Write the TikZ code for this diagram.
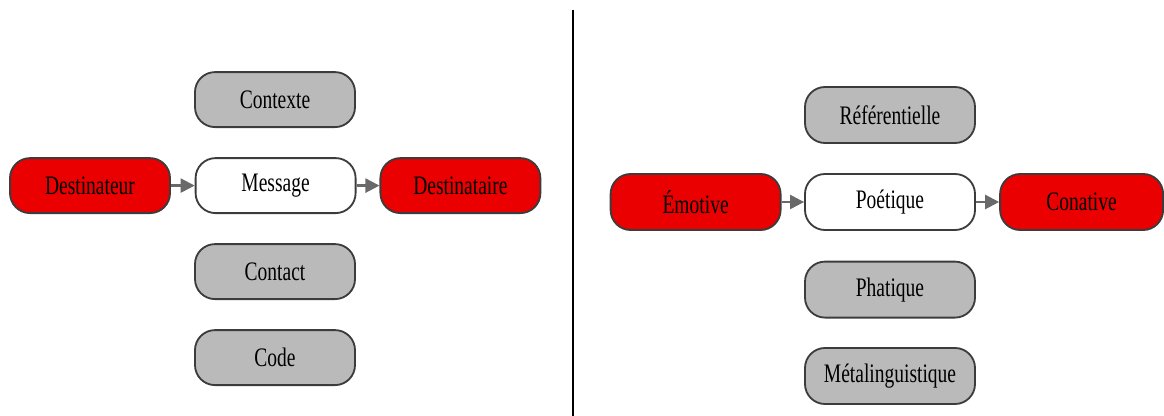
\documentclass[tikz,border=0pt]{standalone}
\usepackage{fontspec}
\setmainfont{Liberation Serif}[FakeStretch=0.73]
\usetikzlibrary{arrows.meta}

\definecolor{boxred}{RGB}{234,0,0}
\definecolor{boxgray}{RGB}{186,186,186}
\definecolor{boxline}{RGB}{60,60,60}
\definecolor{arrowgray}{RGB}{105,105,105}

\tikzset{
    fn/.style={draw=boxline, line width=1.3pt, rounded corners=0.5cm,
        minimum width=4cm, minimum height=1.375cm, inner sep=0pt,
        font=\fontsize{19}{21}\selectfont},
    fnred/.style={fn, fill=boxred},
    fngray/.style={fn, fill=boxgray},
    fnwhite/.style={fn, fill=white},
    flow/.style={draw=arrowgray, line width=1.6pt,
        -{Triangle[length=3.5mm, width=3.5mm]}}
}

\begin{document}
\begin{tikzpicture}
    \useasboundingbox (0,0) rectangle (29.1,-10.4);

    % Left side: the factors of communication
    \node[fngray]  (contexte)     at (6.875,-2.49) {Contexte};
    \node[fnred]   (destinateur)  at (2.25,-4.64)  {Destinateur};
    \node[fnwhite] (message)      at (6.89,-4.64)  {Message};
    \node[fnred]   (destinataire) at (11.51,-4.64) {Destinataire};
    \node[fngray]  (contact)      at (6.875,-6.79) {Contact};
    \node[fngray]  (code)         at (6.875,-8.94) {Code};

    \draw[flow] (destinateur) -- (message);
    \draw[flow] (message) -- (destinataire);

    % Separator
    \draw[line width=1.7pt] (14.325,-0.25) -- (14.325,-10.4);

    % Right side: the functions of language
    \tikzset{fn/.append style={minimum width=4.25cm, minimum height=1.4cm}}
    \node[fngray]  (referentielle) at (22.25,-2.875) {Référentielle};
    \node[fnred]   (emotive)       at (17.39,-5.05)  {Émotive};
    \node[fnwhite] (poetique)      at (22.25,-5.05)  {Poétique};
    \node[fnred, minimum width=4.075cm] (conative) at (27.04,-5.05) {Conative};
    \node[fngray]  (phatique)      at (22.25,-7.24)  {Phatique};
    \node[fngray]  (metaling)      at (22.25,-9.4)   {Métalinguistique};

    \draw[flow] (emotive) -- (poetique);
    \draw[flow] (poetique) -- (conative);
\end{tikzpicture}
\end{document}
